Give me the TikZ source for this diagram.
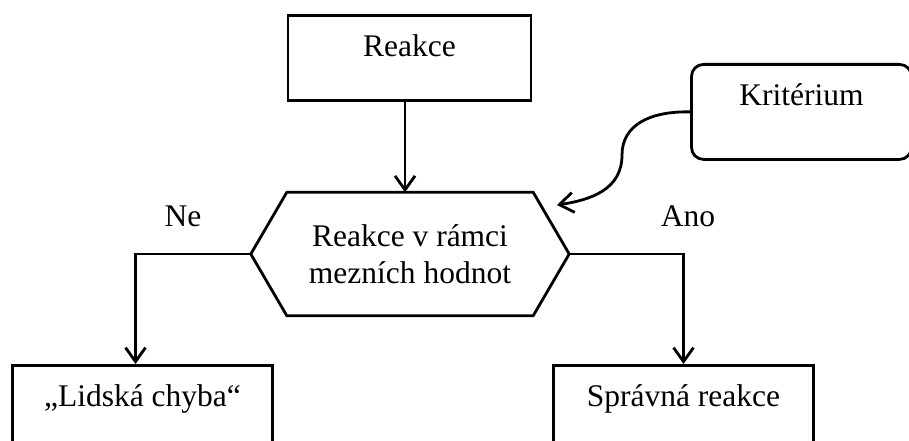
\documentclass[tikz,border=0pt]{standalone}
\usepackage{fontspec}
\setmainfont{Liberation Serif}
\usetikzlibrary{arrows.meta,calc}
\begin{document}
\begin{tikzpicture}[x=1pt,y=-1pt,
  every node/.style={font=\fontsize{31.5}{37}\selectfont},
  box/.style={draw, line width=2.8pt, inner sep=0pt, text height=41pt, text depth=44pt},
  conn/.style={line width=2.8pt, -{Straight Barb[length=14pt,width=20pt,line width=2.8pt]}},
  lbl/.style={anchor=base, inner sep=0pt}]
\clip (0,0) rectangle (909,441);
\fill[white] (0,0) rectangle (909,441);
\node[box, anchor=north, minimum width=243pt] (reakce) at (409.5,14.5) {Reakce};
\node[box, anchor=north, minimum width=260pt] (lidska) at (142.5,364) {„Lidská chyba“};
\node[box, anchor=north, minimum width=260pt] (spravna) at (683.5,364) {Správná reakce};
\node[box, anchor=north, minimum width=220pt, text depth=54pt, rounded corners=12pt] (krit) at (801.5,63) {Kritérium};
\node[inner sep=0pt, minimum width=246pt, minimum height=123pt, align=center] (hex) at (410,254) {Reakce v rámci\\mezních hodnot};
\coordinate (hexL) at ($(hex.west)+(-36,0)$);
\coordinate (hexR) at ($(hex.east)+(36,0)$);
\draw[line width=2.8pt, line join=miter] (hex.north west) -- (hex.north east) -- (hexR) -- (hex.south east) -- (hex.south west) -- (hexL) -- cycle;
\draw[conn] ($(reakce.south)+(-4.5,0)$) -- ($(reakce.south |- hex.north)+(-4.5,0)$);
\draw[conn] (hexL) -| ($(lidska.north)+(-7,0)$);
\draw[conn] (hexR) -| (spravna.north);
\coordinate (kend) at (557,205);
\draw[conn] (krit.west) .. controls (650,111) and (622,125) .. (622,155) .. controls (622,190) and (590,200) .. (kend);
\node[lbl] (ne) at (183,226) {Ne};
\node[lbl] (ano) at (688,226) {Ano};
\end{tikzpicture}
\end{document}
